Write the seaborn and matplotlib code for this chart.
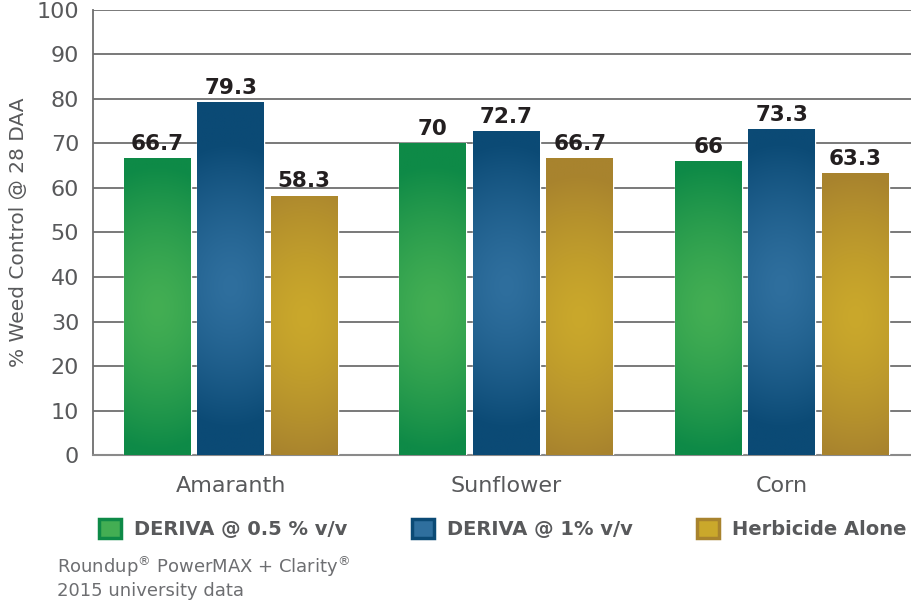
import numpy as np
import pandas as pd
import matplotlib
matplotlib.use("Agg")
import matplotlib.pyplot as plt
import seaborn as sns
from matplotlib.colors import to_rgb
from matplotlib.patches import Rectangle

# ---- data ----
categories = ["Amaranth", "Sunflower", "Corn"]
series_names = ["DERIVA @ 0.5 % v/v", "DERIVA @ 1% v/v", "Herbicide Alone"]
deriva_05 = [66.7, 70, 66]
deriva_1 = [79.3, 72.7, 73.3]
herbicide_alone = [58.3, 66.7, 63.3]
y_ticks = [0, 10, 20, 30, 40, 50, 60, 70, 80, 90, 100]
y_label = "% Weed Control @ 28 DAA"
footnote_1 = "Roundup$^{®}$ PowerMAX + Clarity$^{®}$"
footnote_2 = "2015 university data"

dark_cols = ["#0E8A47", "#0B4A75", "#A8832E"]
light_cols = ["#43AE53", "#2F6F9E", "#CAA82B"]
grad_center = [33, 38, 31]

df = pd.DataFrame({
    "Crop": categories * 3,
    "Treatment": sum([[s] * 3 for s in series_names], []),
    "Value": deriva_05 + deriva_1 + herbicide_alone,
})

sns.set_theme(style="white")
plt.rcParams["font.family"] = ["DejaVu Sans"]
fig = plt.figure(figsize=(9.12, 6.01), dpi=100)
ax = fig.add_axes([0.102, 0.2429, 0.898, 0.7405])

palette = dict(zip(series_names, dark_cols))
sns.barplot(data=df, x="Crop", y="Value", hue="Treatment", hue_order=series_names,
            order=categories, palette=palette, width=0.8, gap=0.09,
            saturation=1, legend=False, ax=ax, errorbar=None, zorder=3)

# radial gradient fill on each bar
for ci, cont in enumerate(ax.containers):
    d = np.array(to_rgb(dark_cols[ci]))
    l = np.array(to_rgb(light_cols[ci]))
    for p in cont.patches:
        x0, w, h = p.get_x(), p.get_width(), p.get_height()
        nx, ny = 60, 300
        xs = np.linspace(-1, 1, nx)
        ys = np.linspace(h, 0, ny)
        X, Y = np.meshgrid(xs, ys)
        dist = np.sqrt((X / 3.0) ** 2 + ((Y - grad_center[ci]) / 32.0) ** 2)
        t = np.clip(dist, 0, 1) ** 1.4
        img = l[None, None, :] * (1 - t[..., None]) + d[None, None, :] * t[..., None]
        im = ax.imshow(img, extent=[x0, x0 + w, 0, h], aspect="auto",
                       interpolation="bilinear", zorder=4)
        im.set_clip_path(p)
    ax.bar_label(cont, fmt="{:g}", padding=3, fontsize=15.5, fontweight="bold",
                 color="#231F20", zorder=5)

ax.set_xlim(-0.5, 2.472)
ax.set_ylim(0, 100)
ax.set_yticks(y_ticks)
ax.yaxis.grid(True, color="#6E6E6E", linewidth=1.3, zorder=0)
ax.set_axisbelow(True)
for s in ["top", "right"]:
    ax.spines[s].set_visible(False)
ax.spines["left"].set_color("#6E6E6E")
ax.spines["bottom"].set_color("#8A8A8A")
ax.spines["left"].set_linewidth(1.3)
ax.spines["bottom"].set_linewidth(1.5)
ax.tick_params(axis="y", length=0, pad=10, labelsize=16, labelcolor="#58595B")
ax.tick_params(axis="x", length=0, pad=15, labelsize=16, labelcolor="#58595B")
ax.set_xlabel("")
ax.set_ylabel(y_label, fontsize=14.5, color="#58595B", labelpad=6)

# legend row under the axes
leg_handles = [Rectangle((0, 0), 1, 1, facecolor=light_cols[i], edgecolor=dark_cols[i], linewidth=2.5)
               for i in range(3)]
leg = fig.legend(leg_handles, series_names, loc="lower left", bbox_to_anchor=(0.1, 0.09),
                 ncol=3, frameon=False, handlelength=1.15, handleheight=1.15,
                 handletextpad=0.65, columnspacing=3.3, borderaxespad=0,
                 prop={"size": 14, "weight": "bold"})
for t in leg.get_texts():
    t.set_color("#58595B")

fig.text(0.0625, 0.058, footnote_1, fontsize=13, color="#6D6E71", va="center")
fig.text(0.0625, 0.017, footnote_2, fontsize=13, color="#6D6E71", va="center")

fig.savefig("out.png", dpi=100)
